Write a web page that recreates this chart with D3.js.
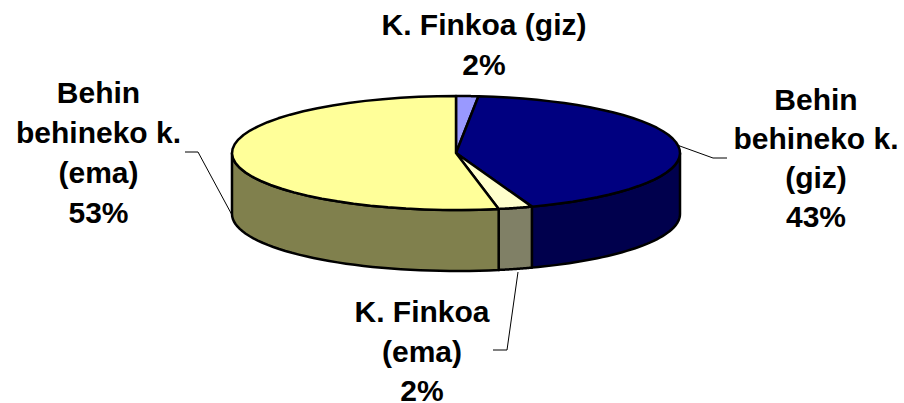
<!DOCTYPE html>
<html>
<head>
<meta charset="utf-8">
<script src="https://cdn.jsdelivr.net/npm/d3@7"></script>
<style>
  html, body { margin: 0; padding: 0; background: #fff; }
  text { font-family: "Liberation Sans", Arial, sans-serif; font-weight: bold; font-size: 30px; fill: #000; text-anchor: middle; }
</style>
</head>
<body>
<div id="chart"></div>
<script>
// data
const categories = ["K. Finkoa (giz)", "Behin behineko k. (giz)", "K. Finkoa (ema)", "Behin behineko k. (ema)"];
const values = [1.6, 42.9, 2.45, 53.05];
const topColors = ["#9999ff", "#000080", "#ffffcc", "#ffff99"];
const sideColors = ["#4d4d80", "#00004d", "#808066", "#80804d"];
const labelLines = [
  ["K. Finkoa (giz)"],
  ["Behin", "behineko k.", "(giz)"],
  ["K. Finkoa", "(ema)"],
  ["Behin", "behineko k.", "(ema)"]
];

// layout
const width = 904, height = 403;
const depth = 61;
const labelPos = [
  { x: 484, y: 35, step: 40 },
  { x: 816, y: 110, step: 39 },
  { x: 422, y: 322, step: 39.5 },
  { x: 98.5, y: 103, step: 40 }
];
const leaders = [
  null,
  [[727, 158], [713, 158], [677, 145]],
  [[493, 350], [507, 350], [518, 272]],
  [[185, 152], [198, 152], [232, 215]]
];

const svg = d3.select("#chart").append("svg")
  .attr("width", width)
  .attr("height", height)
  .style("display", "block");

// the tilted pie is a unit circle squashed through two scales
const x = d3.scaleLinear().domain([-1, 1]).range([232, 680]);
const y = d3.scaleLinear().domain([-1, 1]).range([96, 210]);

const pie = d3.pie().sort(null).value(d => d);
const arcs = pie(values);

const rim = (a, dy = 0) => [x(Math.sin(a)), y(-Math.cos(a)) + dy];
const steps = (a0, a1) => d3.range(0, 41).map(i => a0 + (a1 - a0) * i / 40);
const line = d3.line();

// side walls, only the part facing front (90deg to 270deg)
arcs.forEach((d, i) => {
  const a0 = Math.max(d.startAngle, Math.PI / 2);
  const a1 = Math.min(d.endAngle, Math.PI * 1.5);
  if (a0 >= a1) return;
  const upper = steps(a0, a1).map(a => rim(a));
  const lower = steps(a1, a0).map(a => rim(a, depth));
  svg.append("path")
    .attr("d", line(upper.concat(lower)) + "Z")
    .attr("fill", sideColors[i])
    .attr("stroke", "#000")
    .attr("stroke-width", 2.5)
    .attr("stroke-linejoin", "round");
});

// top slices
arcs.forEach((d, i) => {
  const center = [x(0), y(0)];
  const pts = [center].concat(steps(d.startAngle, d.endAngle).map(a => rim(a)));
  svg.append("path")
    .attr("d", line(pts) + "Z")
    .attr("fill", topColors[i])
    .attr("stroke", "#000")
    .attr("stroke-width", 2.5)
    .attr("stroke-linejoin", "round");
});

// leader lines
leaders.forEach(l => {
  if (!l) return;
  svg.append("path")
    .attr("d", line(l))
    .attr("fill", "none")
    .attr("stroke", "#000")
    .attr("stroke-width", 1);
});

// labels
const pct = d3.format(".0f");
categories.forEach((c, i) => {
  const p = labelPos[i];
  const rows = labelLines[i].concat(pct(values[i]) + "%");
  const t = svg.append("text");
  rows.forEach((r, j) => {
    t.append("tspan").attr("x", p.x).attr("y", p.y + j * p.step).text(r);
  });
});
</script>
</body>
</html>
